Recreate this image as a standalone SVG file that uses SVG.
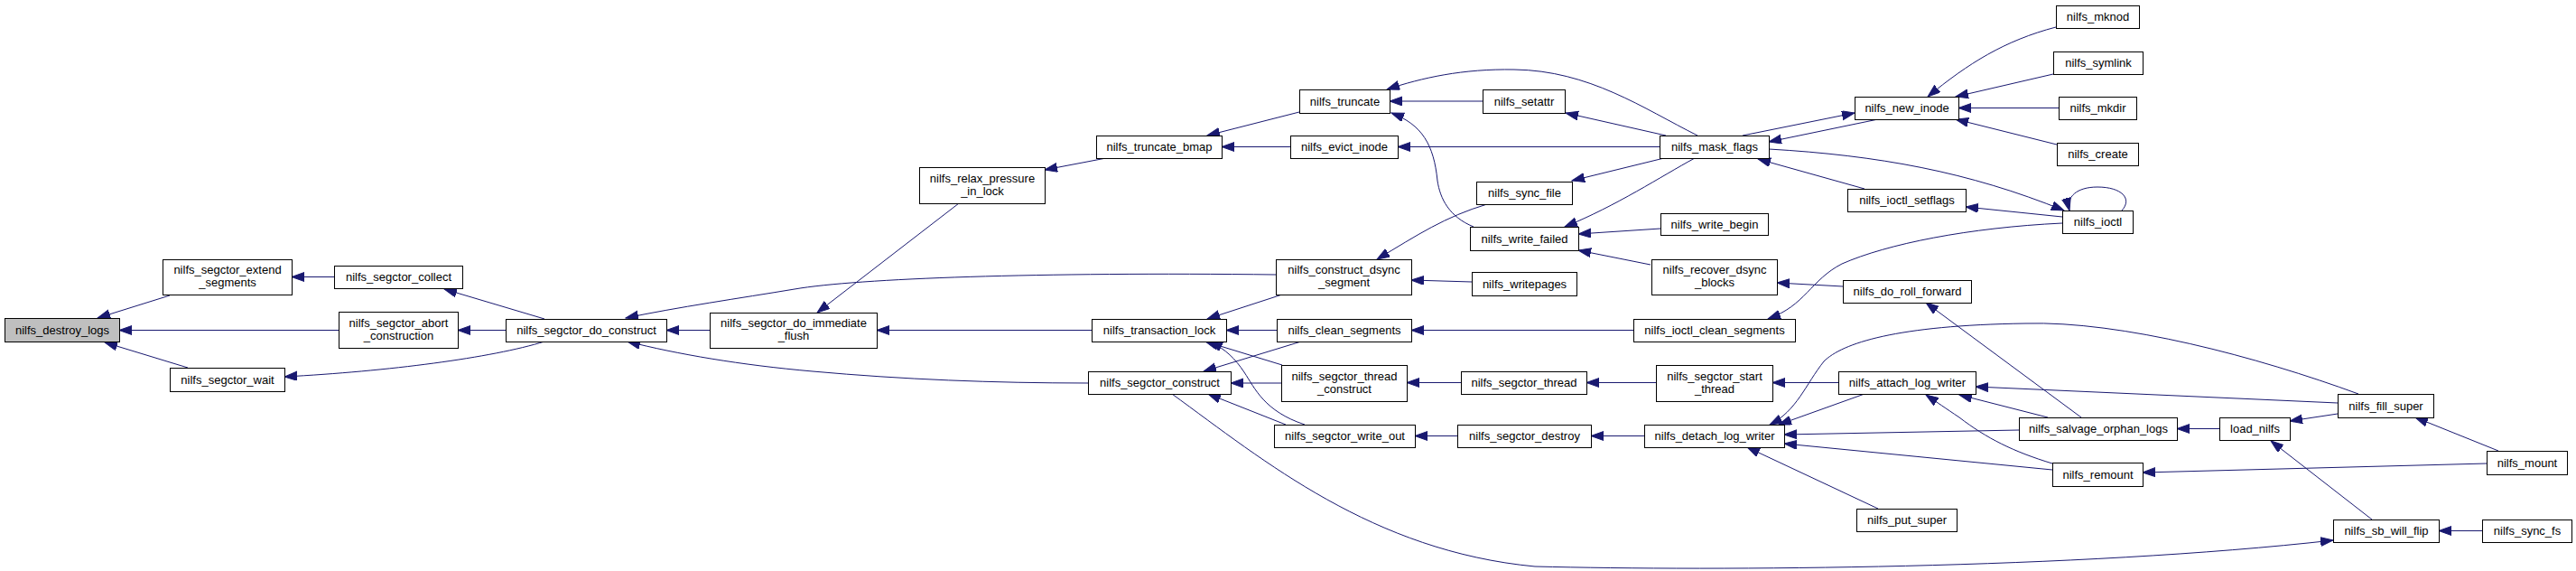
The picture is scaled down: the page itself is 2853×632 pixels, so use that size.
<svg xmlns="http://www.w3.org/2000/svg" width="2853" height="632" viewBox="0 0 2853 632">
<defs>
<marker id="ah" markerUnits="userSpaceOnUse" markerWidth="15" markerHeight="11" refX="14" refY="5" orient="auto">
<path d="M0,0 L14,5 L0,10 Z" fill="#191970" stroke="#191970" stroke-width="1"/>
</marker>
<style>
.n rect{fill:#fff;stroke:#000;stroke-width:1}
.n text{font-family:"Liberation Sans",Arial,Helvetica,sans-serif;font-size:13px;fill:#000;text-anchor:middle}
#edges path{fill:none;stroke:#191970;stroke-width:1;marker-end:url(#ah)}
</style>
</defs>
<rect width="2853" height="632" fill="#fff"/>
<g id="edges">
<path d="M188,327 L108,352"/>
<path d="M375,365.5 L132,365.5"/>
<path d="M208,407 L116,379"/>
<path d="M370,306.5 L323,306.5"/>
<path d="M603,353 L492,320"/>
<path d="M560,365.5 L507,365.5"/>
<path d="M603,378 C545,396 430,411 315,417"/>
<path d="M786,365.5 L738,365.5"/>
<path d="M1413,304 C1150,301 950,308 880,320 C820,330 750,340 693,352"/>
<path d="M1062,225 L905,346"/>
<path d="M1209,365.5 L971,365.5"/>
<path d="M1205,424 C1100,424 1000,420 900,411 C820,404 750,392 695,378"/>
<path d="M1225,175 L1157,188"/>
<path d="M1439,124 L1337,150"/>
<path d="M1429,162.5 L1353,162.5"/>
<path d="M1420,326 L1337,353"/>
<path d="M1414,365.5 L1358,365.5"/>
<path d="M1420,404 L1335,378"/>
<path d="M1445,470 C1400,455 1390,430 1378,412 C1368,397 1358,387 1340,378"/>
<path d="M1441,378 L1333,411"/>
<path d="M1419,424 L1363,424"/>
<path d="M1424,470 L1338,436"/>
<path d="M1298,436 C1400,510 1520,610 1700,627 C1900,632 2300,630 2584,598"/>
<path d="M1642,112 L1539,112"/>
<path d="M1880,150 C1820,120 1760,78 1677,77 C1620,76 1575,86 1536,99"/>
<path d="M1632,251 C1605,240 1595,220 1592,200 C1588,160 1575,138 1541,125"/>
<path d="M1838,162.5 L1548,162.5"/>
<path d="M1845,150 L1734,125"/>
<path d="M1843,175 L1741,200"/>
<path d="M1877,175 C1840,195 1790,228 1733,251"/>
<path d="M1839,253 L1748,259"/>
<path d="M1828,293 L1748,277"/>
<path d="M1647,226 C1600,240 1570,260 1525,287"/>
<path d="M1630,312 L1563,310"/>
<path d="M1809,365.5 L1563,365.5"/>
<path d="M1618,423.5 L1558,423.5"/>
<path d="M1834,423.5 L1757,423.5"/>
<path d="M1614,482.5 L1567,482.5"/>
<path d="M1821,482.5 L1762,482.5"/>
<path d="M2284,247 C2180,252 2090,270 2040,292 C2005,310 2000,338 1958,353"/>
<path d="M2041,317 L1968,313"/>
<path d="M2305,462 L2133,335"/>
<path d="M1930,150 L2054,125"/>
<path d="M2080,132 L1959,157"/>
<path d="M2277,30 C2220,45 2180,70 2135,107"/>
<path d="M2274,82 L2166,107"/>
<path d="M2280,119.5 L2169,119.5"/>
<path d="M2278,160 L2166,132"/>
<path d="M2065,209 L1947,176"/>
<path d="M1959,165 C2080,172 2180,190 2286,233"/>
<path d="M2284,240 L2177,229"/>
<path d="M2350,233 C2362,220 2350,207 2323,207 C2300,207 2288,218 2292,233"/>
<path d="M2036,423.5 L1963,423.5"/>
<path d="M2612,436 C2500,395 2350,355 2243,358 C2100,360 2040,380 2020,400 C2000,425 1990,455 1960,470"/>
<path d="M2065,436 L1970,470"/>
<path d="M2268,462 L2170,437"/>
<path d="M2236,476 L1976,481"/>
<path d="M2273,513 C2230,500 2200,485 2170,462 C2155,452 2145,445 2133,437"/>
<path d="M2273,520 L1976,491"/>
<path d="M2080,563 L1935,495"/>
<path d="M2589,446 L2188,428"/>
<path d="M2458,474.5 L2411,474.5"/>
<path d="M2589,458 L2536,466"/>
<path d="M2767,499 L2675,462"/>
<path d="M2754,513 L2373,523"/>
<path d="M2627,575 L2515,488"/>
<path d="M2749,587.5 L2701,587.5"/>
</g>
<g id="destroy_logs" class="n"><rect x="5.5" y="352.5" width="127" height="26" style="fill:#bfbfbf"/><text x="69" y="369.5">nilfs_destroy_logs</text></g>
<g id="extend_segments" class="n"><rect x="180.5" y="287.5" width="143" height="39"/><text x="252" y="302.5">nilfs_segctor_extend</text><text x="252" y="316.5">_segments</text></g>
<g id="abort_construction" class="n"><rect x="375.5" y="345.5" width="132" height="40"/><text x="441.5" y="361.5">nilfs_segctor_abort</text><text x="441.5" y="375.5">_construction</text></g>
<g id="segctor_wait" class="n"><rect x="188.5" y="407.5" width="127" height="26"/><text x="252" y="424.5">nilfs_segctor_wait</text></g>
<g id="segctor_collect" class="n"><rect x="370.5" y="294.5" width="142" height="25"/><text x="441.5" y="311">nilfs_segctor_collect</text></g>
<g id="do_construct" class="n"><rect x="560.5" y="353.5" width="178" height="25"/><text x="649.5" y="370">nilfs_segctor_do_construct</text></g>
<g id="do_immediate_flush" class="n"><rect x="786.5" y="346.5" width="185" height="39"/><text x="879" y="361.5">nilfs_segctor_do_immediate</text><text x="879" y="375.5">_flush</text></g>
<g id="relax_pressure" class="n"><rect x="1018.5" y="185.5" width="139" height="40"/><text x="1088" y="201.5">nilfs_relax_pressure</text><text x="1088" y="215.5">_in_lock</text></g>
<g id="truncate_bmap" class="n"><rect x="1214.5" y="150.5" width="139" height="25"/><text x="1284" y="167">nilfs_truncate_bmap</text></g>
<g id="transaction_lock" class="n"><rect x="1209.5" y="353.5" width="149" height="25"/><text x="1284" y="370">nilfs_transaction_lock</text></g>
<g id="segctor_construct" class="n"><rect x="1205.5" y="411.5" width="158" height="25"/><text x="1284.5" y="428">nilfs_segctor_construct</text></g>
<g id="truncate" class="n"><rect x="1439.5" y="99.5" width="100" height="26"/><text x="1489.5" y="116.5">nilfs_truncate</text></g>
<g id="evict_inode" class="n"><rect x="1429.5" y="150.5" width="119" height="25"/><text x="1489" y="167">nilfs_evict_inode</text></g>
<g id="construct_dsync_segment" class="n"><rect x="1413.5" y="287.5" width="150" height="39"/><text x="1488.5" y="302.5">nilfs_construct_dsync</text><text x="1488.5" y="316.5">_segment</text></g>
<g id="clean_segments" class="n"><rect x="1414.5" y="353.5" width="149" height="25"/><text x="1489" y="370">nilfs_clean_segments</text></g>
<g id="thread_construct" class="n"><rect x="1419.5" y="404.5" width="139" height="40"/><text x="1489" y="420.5">nilfs_segctor_thread</text><text x="1489" y="434.5">_construct</text></g>
<g id="write_out" class="n"><rect x="1411.5" y="470.5" width="156" height="25"/><text x="1489.5" y="487">nilfs_segctor_write_out</text></g>
<g id="setattr" class="n"><rect x="1642.5" y="99.5" width="91" height="26"/><text x="1688" y="116.5">nilfs_setattr</text></g>
<g id="sync_file" class="n"><rect x="1635.5" y="201.5" width="106" height="25"/><text x="1688.5" y="218">nilfs_sync_file</text></g>
<g id="write_failed" class="n"><rect x="1628.5" y="251.5" width="120" height="26"/><text x="1688.5" y="268.5">nilfs_write_failed</text></g>
<g id="writepages" class="n"><rect x="1630.5" y="301.5" width="116" height="26"/><text x="1688.5" y="318.5">nilfs_writepages</text></g>
<g id="segctor_thread" class="n"><rect x="1618.5" y="411.5" width="139" height="25"/><text x="1688" y="428">nilfs_segctor_thread</text></g>
<g id="segctor_destroy" class="n"><rect x="1614.5" y="470.5" width="148" height="25"/><text x="1688.5" y="487">nilfs_segctor_destroy</text></g>
<g id="mask_flags" class="n"><rect x="1838.5" y="150.5" width="121" height="25"/><text x="1899" y="167">nilfs_mask_flags</text></g>
<g id="write_begin" class="n"><rect x="1839.5" y="236.5" width="119" height="24"/><text x="1899" y="252.5">nilfs_write_begin</text></g>
<g id="recover_dsync_blocks" class="n"><rect x="1829.5" y="287.5" width="139" height="39"/><text x="1899" y="302.5">nilfs_recover_dsync</text><text x="1899" y="316.5">_blocks</text></g>
<g id="ioctl_clean_segments" class="n"><rect x="1809.5" y="353.5" width="179" height="25"/><text x="1899" y="370">nilfs_ioctl_clean_segments</text></g>
<g id="start_thread" class="n"><rect x="1834.5" y="404.5" width="129" height="40"/><text x="1899" y="420.5">nilfs_segctor_start</text><text x="1899" y="434.5">_thread</text></g>
<g id="detach_log_writer" class="n"><rect x="1821.5" y="470.5" width="155" height="25"/><text x="1899" y="487">nilfs_detach_log_writer</text></g>
<g id="new_inode" class="n"><rect x="2054.5" y="107.5" width="115" height="25"/><text x="2112" y="124">nilfs_new_inode</text></g>
<g id="ioctl_setflags" class="n"><rect x="2046.5" y="209.5" width="131" height="25"/><text x="2112" y="226">nilfs_ioctl_setflags</text></g>
<g id="do_roll_forward" class="n"><rect x="2041.5" y="310.5" width="142" height="25"/><text x="2112.5" y="327">nilfs_do_roll_forward</text></g>
<g id="attach_log_writer" class="n"><rect x="2036.5" y="411.5" width="152" height="25"/><text x="2112.5" y="428">nilfs_attach_log_writer</text></g>
<g id="put_super" class="n"><rect x="2056.5" y="563.5" width="111" height="25"/><text x="2112" y="580">nilfs_put_super</text></g>
<g id="mknod" class="n"><rect x="2277.5" y="6.5" width="92" height="25"/><text x="2323.5" y="23">nilfs_mknod</text></g>
<g id="symlink" class="n"><rect x="2274.5" y="57.5" width="99" height="25"/><text x="2324" y="74">nilfs_symlink</text></g>
<g id="mkdir" class="n"><rect x="2280.5" y="107.5" width="86" height="25"/><text x="2323.5" y="124">nilfs_mkdir</text></g>
<g id="create" class="n"><rect x="2278.5" y="158.5" width="90" height="25"/><text x="2323.5" y="175">nilfs_create</text></g>
<g id="ioctl" class="n"><rect x="2284.5" y="233.5" width="78" height="25"/><text x="2323.5" y="250">nilfs_ioctl</text></g>
<g id="salvage_orphan_logs" class="n"><rect x="2236.5" y="462.5" width="175" height="25"/><text x="2324" y="479">nilfs_salvage_orphan_logs</text></g>
<g id="remount" class="n"><rect x="2273.5" y="512.5" width="100" height="26"/><text x="2323.5" y="529.5">nilfs_remount</text></g>
<g id="load_nilfs" class="n"><rect x="2458.5" y="462.5" width="78" height="25"/><text x="2497.5" y="479">load_nilfs</text></g>
<g id="fill_super" class="n"><rect x="2589.5" y="436.5" width="106" height="26"/><text x="2642.5" y="453.5">nilfs_fill_super</text></g>
<g id="sb_will_flip" class="n"><rect x="2584.5" y="575.5" width="117" height="25"/><text x="2643" y="592">nilfs_sb_will_flip</text></g>
<g id="mount" class="n"><rect x="2754.5" y="499.5" width="89" height="26"/><text x="2799" y="516.5">nilfs_mount</text></g>
<g id="sync_fs" class="n"><rect x="2749.5" y="575.5" width="99" height="25"/><text x="2799" y="592">nilfs_sync_fs</text></g>
</svg>
